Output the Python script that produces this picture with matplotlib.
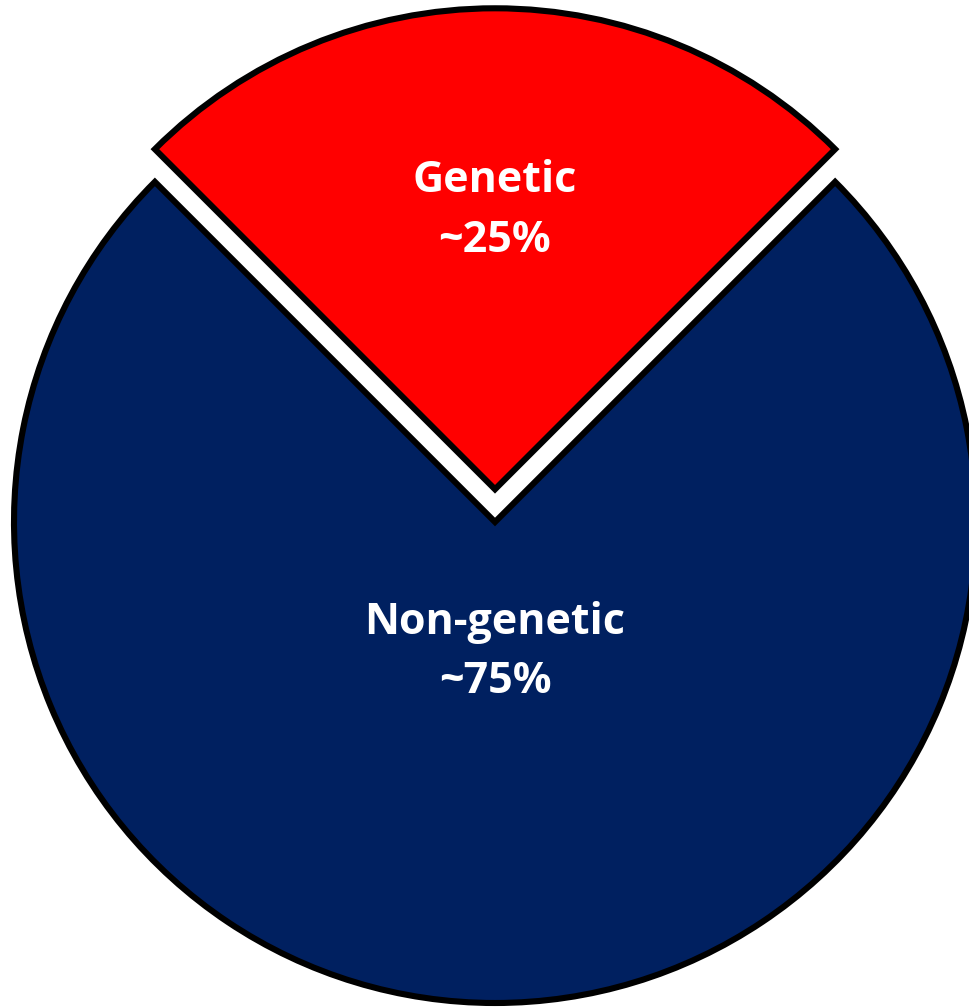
import matplotlib
matplotlib.use("Agg")
import matplotlib.pyplot as plt
import numpy as np

categories = ["Genetic", "Non-genetic"]
shares = [25, 75]
share_labels = ["~25%", "~75%"]
colors = ["#FF0000", "#002060"]
explode = [0.068, 0.0]  # fraction of the radius

W, H = 970, 1008
fig = plt.figure(figsize=(W / 100, H / 100), dpi=100)
ax = fig.add_axes([0, 0, 1, 1])

center = (495, H - 522)
radius = 481

wedges, _ = ax.pie(
    shares,
    colors=colors,
    explode=[e * radius for e in explode],
    startangle=45,
    counterclock=True,
    center=center,
    radius=radius,
    frame=True,
    wedgeprops=dict(edgecolor="black", linewidth=4.4, joinstyle="miter"),
)
ax.set_xlim(0, W)
ax.set_ylim(0, H)
ax.set_aspect("equal")
ax.axis("off")

label_dist = [0.58, 0.27]
for w, cat, lab, d in zip(wedges, categories, share_labels, label_dist):
    ang = np.deg2rad((w.theta1 + w.theta2) / 2)
    cx, cy = w.center
    x = cx + d * radius * np.cos(ang)
    y = cy + d * radius * np.sin(ang)
    ax.text(x, y, f"{cat}\n{lab}", ha="center", va="center", color="white",
            fontsize=31, fontweight="bold", family="Open Sans", linespacing=1.5)

fig.savefig("out.png", dpi=100)
